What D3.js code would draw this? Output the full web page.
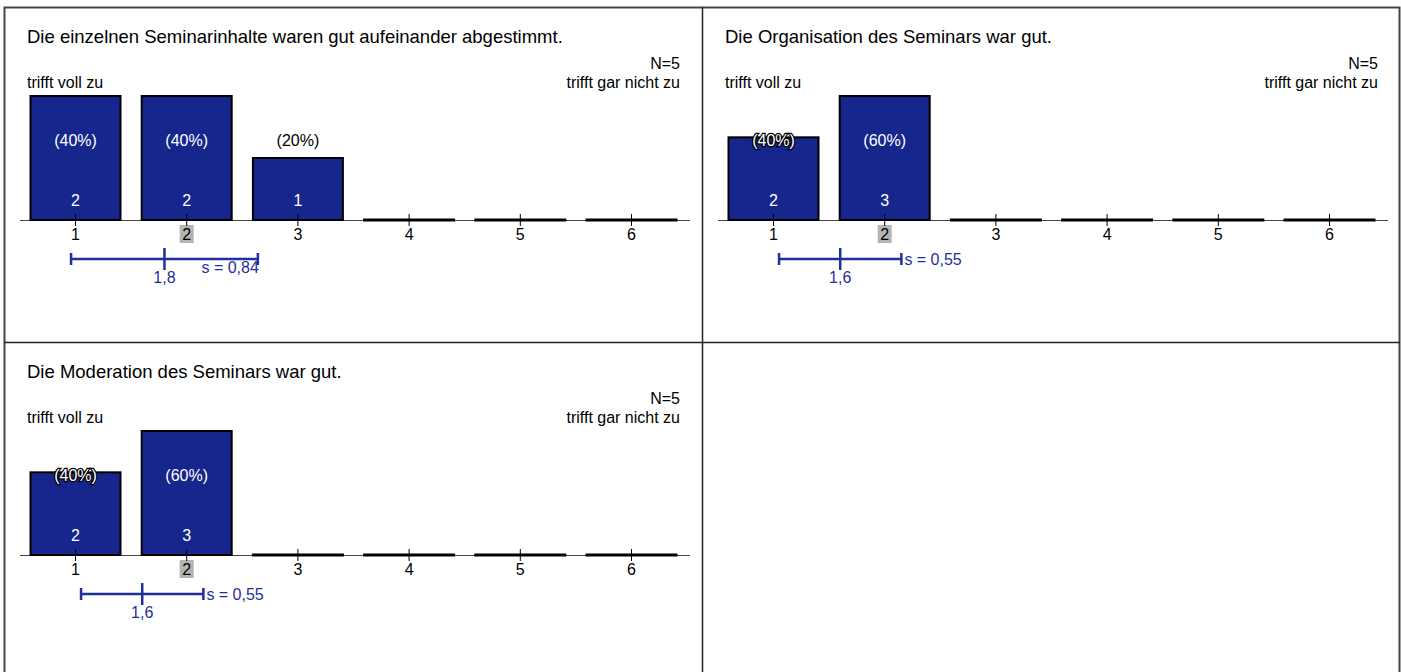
<!DOCTYPE html>
<html>
<head>
<meta charset="utf-8">
<script src="https://cdn.jsdelivr.net/npm/d3@7"></script>
<style>
  body { margin: 0; background: #fff; }
  svg { display: block; font-family: "Liberation Sans", Arial, sans-serif; }
</style>
</head>
<body>
<svg id="chart" width="1401" height="672"></svg>
<script>
// Data
const categories = [1, 2, 3, 4, 5, 6];
const questions = [
  'Die einzelnen Seminarinhalte waren gut aufeinander abgestimmt.',
  'Die Organisation des Seminars war gut.',
  'Die Moderation des Seminars war gut.'
];
const counts = [
  [2, 2, 1, 0, 0, 0],
  [2, 3, 0, 0, 0, 0],
  [2, 3, 0, 0, 0, 0]
];
const nValues = [5, 5, 5];
const means = [1.8, 1.6, 1.6];
const sds = [0.84, 0.55, 0.55];
const medians = [2, 2, 2];
const leftLabel = 'trifft voll zu';
const rightLabel = 'trifft gar nicht zu';

const barColor = '#16268c';
const statColor = '#1f2f9c';
const fs = 16;

const svg = d3.select('#chart');

// grid of panels
const panelOffsets = [[0, 0], [698, 0], [0, 335]];

// frame
const frame = svg.append('g').attr('fill', 'none');
frame.append('rect')
  .attr('x', 4.5).attr('y', 7.5).attr('width', 1395).attr('height', 700)
  .attr('stroke', '#444').attr('stroke-width', 2);
frame.append('line')
  .attr('x1', 702.5).attr('x2', 702.5).attr('y1', 7).attr('y2', 672)
  .attr('stroke', '#222').attr('stroke-width', 1.5);
frame.append('line')
  .attr('x1', 4).attr('x2', 1400).attr('y1', 342.5).attr('y2', 342.5)
  .attr('stroke', '#222').attr('stroke-width', 1.5);

function fmt(v) {
  return String(v).replace('.', ',');
}

questions.forEach((q, i) => {
  const [ox, oy] = panelOffsets[i];
  const g = svg.append('g').attr('transform', `translate(${ox},${oy})`);
  const data = counts[i];
  const n = nValues[i];

  const x = d3.scaleLinear().domain([1, 6]).range([75.5, 631.5]);
  const y = d3.scaleLinear().domain([0, d3.max(data)]).range([220, 96]);
  const barW = 90;

  // titles
  g.append('text').attr('x', 27).attr('y', 43)
    .attr('font-size', 18.5).attr('fill', '#000').text(q);
  g.append('text').attr('x', 680).attr('y', 69).attr('text-anchor', 'end')
    .attr('font-size', fs).text('N=' + n);
  g.append('text').attr('x', 27).attr('y', 88)
    .attr('font-size', fs).text(leftLabel);
  g.append('text').attr('x', 680).attr('y', 88).attr('text-anchor', 'end')
    .attr('font-size', fs).text(rightLabel);

  // axis line
  g.append('line')
    .attr('x1', 20).attr('x2', 690).attr('y1', 220.5).attr('y2', 220.5)
    .attr('stroke', '#444').attr('stroke-width', 1);

  // median highlight
  g.append('rect')
    .attr('x', x(medians[i]) - 7).attr('y', 225)
    .attr('width', 14).attr('height', 18)
    .attr('fill', '#b4b4b4');

  // bars
  categories.forEach((c, j) => {
    const v = data[j];
    const top = y(v);
    if (v > 0) {
      g.append('rect')
        .attr('x', x(c) - barW / 2).attr('y', top)
        .attr('width', barW).attr('height', 220 - top)
        .attr('fill', barColor).attr('stroke', '#000').attr('stroke-width', 2);
    } else {
      g.append('line')
        .attr('x1', x(c) - barW / 2 - 1).attr('x2', x(c) + barW / 2 + 1)
        .attr('y1', 220).attr('y2', 220)
        .attr('stroke', '#000').attr('stroke-width', 3);
    }
  });

  // ticks and tick labels
  categories.forEach(c => {
    g.append('line')
      .attr('x1', x(c)).attr('x2', x(c)).attr('y1', 214).attr('y2', 226)
      .attr('stroke', '#000').attr('stroke-width', 1);
    g.append('text')
      .attr('x', x(c)).attr('y', 240).attr('text-anchor', 'middle')
      .attr('font-size', fs).attr('fill', '#000').text(c);
  });

  // value labels
  categories.forEach((c, j) => {
    const v = data[j];
    if (v === 0) return;
    const top = y(v);
    const pct = '(' + Math.round(v / n * 100) + '%)';
    const labelTop = 133, labelBottom = 148;
    const pctText = g.append('text')
      .attr('x', x(c)).attr('y', 146).attr('text-anchor', 'middle')
      .attr('font-size', fs).text(pct);
    if (top <= labelTop) {
      pctText.attr('fill', '#fff');
    } else if (top >= labelBottom) {
      pctText.attr('fill', '#000');
    } else {
      pctText.attr('fill', '#fff').attr('stroke', '#000')
        .attr('stroke-width', 2.5).attr('paint-order', 'stroke');
    }
    g.append('text')
      .attr('x', x(c)).attr('y', 206).attr('text-anchor', 'middle')
      .attr('font-size', fs).attr('fill', '#fff').text(v);
  });

  // mean and standard deviation
  const m = means[i], s = sds[i];
  const lo = x(m - s), hi = x(m + s), mx = x(m);
  const sy = 259;
  const stats = g.append('g').attr('stroke', statColor).attr('stroke-width', 2.5);
  stats.append('line').attr('x1', lo).attr('x2', hi).attr('y1', sy).attr('y2', sy);
  stats.append('line').attr('x1', lo).attr('x2', lo).attr('y1', sy - 6).attr('y2', sy + 6);
  stats.append('line').attr('x1', hi).attr('x2', hi).attr('y1', sy - 6).attr('y2', sy + 6);
  stats.append('line').attr('x1', mx).attr('x2', mx).attr('y1', sy - 11).attr('y2', sy + 11);

  g.append('text').attr('x', mx).attr('y', 283).attr('text-anchor', 'middle')
    .attr('font-size', fs).attr('fill', statColor).text(fmt(m));

  const sLabel = 's = ' + fmt(s);
  if (hi - mx > 80) {
    g.append('text').attr('x', hi + 1).attr('y', 273).attr('text-anchor', 'end')
      .attr('font-size', fs).attr('fill', statColor).text(sLabel);
  } else {
    g.append('text').attr('x', hi + 3).attr('y', 265)
      .attr('font-size', fs).attr('fill', statColor).text(sLabel);
  }
});
</script>
</body>
</html>
